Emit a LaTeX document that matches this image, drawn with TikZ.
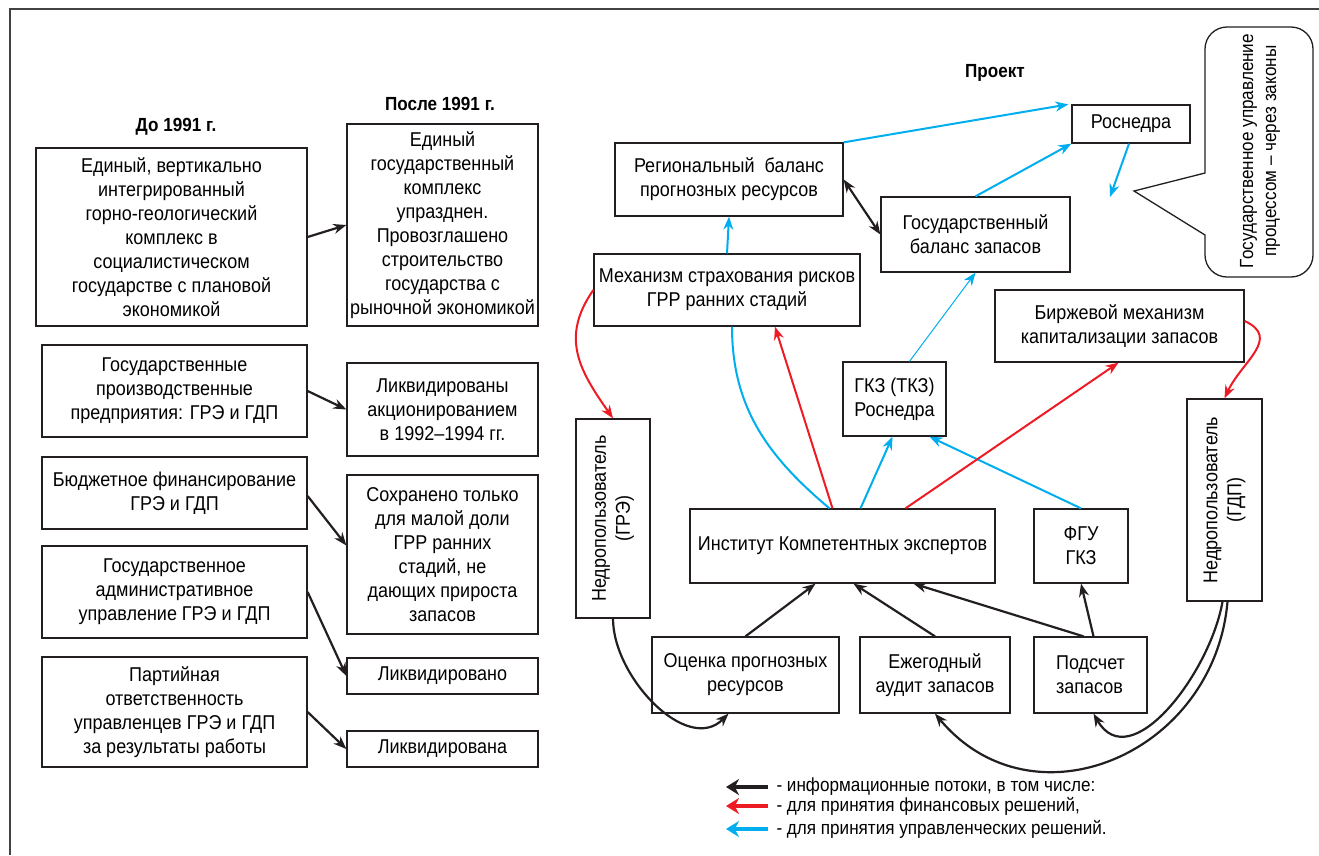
\documentclass[tikz,border=0pt]{standalone}
\usepackage{fontspec}
\setmainfont{Liberation Sans}[FakeStretch=0.9]
\usepackage{graphicx}
\usetikzlibrary{arrows.meta}

\definecolor{inkblack}{RGB}{35,31,32}
\definecolor{fincol}{RGB}{237,28,36}
\definecolor{mgmtcol}{RGB}{0,174,239}

\begin{document}
\begin{tikzpicture}[x=1pt,y=-1pt,
  font=\fontsize{20}{24}\selectfont,
  box/.style={draw=inkblack, line width=1.3pt, align=center, inner sep=2pt},
  infoarr/.style={draw=inkblack, line width=2.2pt, -{Stealth[length=13pt,width=10pt]}},
  finarr/.style={draw=fincol, line width=2pt, -{Stealth[length=13pt,width=10pt]}},
  mgmtarr/.style={draw=mgmtcol, line width=2pt, -{Stealth[length=13pt,width=10pt]}},
  legarr/.style={line width=4.5pt, -{Stealth[length=13pt,width=16pt]}},
  legtext/.style={anchor=west, font=\fontsize{19}{22}\selectfont},
  head/.style={font=\fontsize{19}{24}\selectfont\bfseries}]
\useasboundingbox (0,0) rectangle (1319,855);
\draw[line width=1.5pt, draw=inkblack!85] (10,855) -- (10,9) -- (1319,9);

\node[head] (before) at (176,127) {До 1991 г.};
\node[head] (after) at (440,104) {После 1991 г.};
\node[head] (project) at (995,73) {Проект};

\node[box, minimum width=271pt, minimum height=178pt] (unified) at (171.5,237) {Единый, вертикально\\интегрированный\\горно-геологический\\комплекс в\\социалистическом\\государстве с плановой\\экономикой};
\node[box, minimum width=265pt, minimum height=92pt] (plants) at (174.5,391) {Государственные\\производственные\\предприятия: ГРЭ и ГДП};
\node[box, minimum width=265pt, minimum height=72pt] (budget) at (174.5,493) {Бюджетное финансирование\\ГРЭ и ГДП};
\node[box, minimum width=265pt, minimum height=92pt] (admin) at (174.5,592) {Государственное\\административное\\управление ГРЭ и ГДП};
\node[box, minimum width=265pt, minimum height=110pt] (party) at (174.5,712) {Партийная\\ответственность\\управленцев ГРЭ и ГДП\\за результаты работы};

\node[box, minimum width=191pt, minimum height=202pt] (abolished) at (442.5,225) {Единый\\государственный\\комплекс\\упразднен.\\Провозглашено\\строительство\\государства с\\рыночной экономикой};
\node[box, minimum width=191pt, minimum height=93pt] (shares) at (442.5,409.5) {Ликвидированы\\акционированием\\в 1992–1994 гг.};
\node[box, minimum width=191pt, minimum height=159pt] (kept) at (442.5,554.5) {Сохранено только\\для малой доли\\ГРР ранних\\стадий, не\\дающих прироста\\запасов};
\node[box, minimum width=191pt, minimum height=36pt] (liqadm) at (442.5,676) {Ликвидировано};
\node[box, minimum width=191pt, minimum height=36pt] (liqparty) at (442.5,749) {Ликвидирована};

\draw[infoarr] (unified.east) -- (abolished.west);
\draw[infoarr] (plants.east) -- (shares.west);
\draw[infoarr] ([yshift=-3pt]budget.east) -- ([yshift=9pt]kept.west);
\draw[infoarr] (admin.east) -- (liqadm.west);
\draw[infoarr] (party.east) -- (liqparty.west);

\node[box, minimum width=118pt, minimum height=38pt] (rosnedra) at (1131,124) {Роснедра};
\node[box, minimum width=228pt, minimum height=73pt] (regbal) at (729,179.5) {Региональный\ \ баланс\\прогнозных ресурсов};
\node[box, minimum width=189pt, minimum height=75pt] (gosbal) at (975.5,234.5) {Государственный\\баланс запасов};
\node[box, minimum width=266pt, minimum height=72pt] (mech) at (727,290) {Механизм страхования рисков\\ГРР ранних стадий};
\node[box, minimum width=103pt, minimum height=74pt] (gkz) at (894.5,399) {ГКЗ (ТКЗ)\\Роснедра};
\node[box, minimum width=249pt, minimum height=72pt] (birzh) at (1119.5,326) {Биржевой механизм\\капитализации запасов};
\node[box, minimum width=74pt, minimum height=199pt] (ngre) at (613,518.5) {\rotatebox{90}{\begin{tabular}{@{}c@{}}Недропользователь\\(ГРЭ)\end{tabular}}};
\node[box, minimum width=75pt, minimum height=202pt] (ngdp) at (1224.5,500) {\rotatebox{90}{\begin{tabular}{@{}c@{}}Недропользователь\\(ГДП)\end{tabular}}};
\node[box, minimum width=305pt, minimum height=74pt] (inst) at (842.5,546) {Институт Компетентных экспертов};
\node[box, minimum width=94pt, minimum height=74pt] (fgu) at (1081,546) {ФГУ\\ГКЗ};
\node[box, minimum width=187pt, minimum height=76pt] (ocenka) at (745.5,675) {Оценка прогнозных\\ресурсов};
\node[box, minimum width=150pt, minimum height=76pt] (audit) at (935,675) {Ежегодный\\аудит запасов};
\node[box, minimum width=113pt, minimum height=76pt, align=left] (podsch) at (1090.5,675) {Подсчет\\запасов};

\draw[line width=1.3pt, draw=inkblack] (1134,191) -- (1205,173) [rounded corners=22pt] -- (1205,27) -- (1313,27) -- (1313,277) -- (1205,277) [sharp corners] -- (1205,235) -- cycle;
\node[rotate=90, align=center, font=\fontsize{19}{23}\selectfont] (lawnote) at (1260,151) {Государственное управление\\процессом – через законы};
\coordinate (lawtip) at (1110,197);

\draw[mgmtarr] (regbal.north east) -- ([xshift=-3pt]rosnedra.north west);
\draw[mgmtarr] (gosbal.north) -- (rosnedra.south west);
\draw[mgmtarr] ([xshift=-2pt]rosnedra.south) -- (lawtip);
\draw[infoarr, {Stealth[length=13pt,width=10pt]}-{Stealth[length=13pt,width=10pt]}] (regbal.east) -- (gosbal.west);
\draw[mgmtarr] (mech.north) -- (regbal.south);
\draw[mgmtarr, line width=1pt] ([xshift=15pt]gkz.north) -- (gosbal.south);
\draw[finarr] (mech.west) to[out=235, in=125, looseness=1.15] (ngre.north);
\draw[draw=mgmtcol, line width=2pt] ([xshift=5pt]mech.south) to[out=-90, in=140] ([xshift=-13pt]inst.north);
\draw[finarr] ([xshift=-10pt]inst.north) -- ([xshift=48pt]mech.south);
\draw[mgmtarr] ([xshift=18pt]inst.north) -- ([xshift=-2pt]gkz.south);
\draw[mgmtarr] (fgu.north) -- ([xshift=35pt]gkz.south);
\draw[finarr] ([xshift=63pt]inst.north) -- ([xshift=-1pt]birzh.south);
\draw[finarr] ([yshift=5pt]birzh.east) to[out=-25, in=65, looseness=1.3] (ngdp.north);

\draw[infoarr] (ocenka.north) -- ([xshift=-27pt]inst.south);
\draw[infoarr] (audit.north) -- ([xshift=11pt]inst.south);
\draw[infoarr] ([xshift=-7pt]podsch.north) -- ([xshift=71pt]inst.south);
\draw[infoarr] ([xshift=3pt]podsch.north) -- (fgu.south);
\draw[infoarr] (ngre.south) to[out=-90, in=-135] ([xshift=-17pt]ocenka.south);
\draw[infoarr] ([xshift=-2pt]ngdp.south) to[out=-100, in=-60, looseness=1.1] ([xshift=3pt]podsch.south);
\draw[infoarr] ([xshift=3pt]ngdp.south) to[out=-95, in=-50, looseness=1.25] (audit.south);

\node[legtext] (leginfo) at (773,787) {- информационные потоки, в том числе:};
\node[legtext] (legfin) at (773,806) {- для принятия финансовых решений,};
\node[legtext] (legmgmt) at (773,829) {- для принятия управленческих решений.};
\draw[legarr, draw=inkblack] ([xshift=-5pt]leginfo.west) -- ([xshift=-47pt]leginfo.west);
\draw[legarr, draw=fincol] ([xshift=-5pt]legfin.west) -- ([xshift=-47pt]legfin.west);
\draw[legarr, draw=mgmtcol] ([xshift=-5pt]legmgmt.west) -- ([xshift=-47pt]legmgmt.west);
\end{tikzpicture}
\end{document}
